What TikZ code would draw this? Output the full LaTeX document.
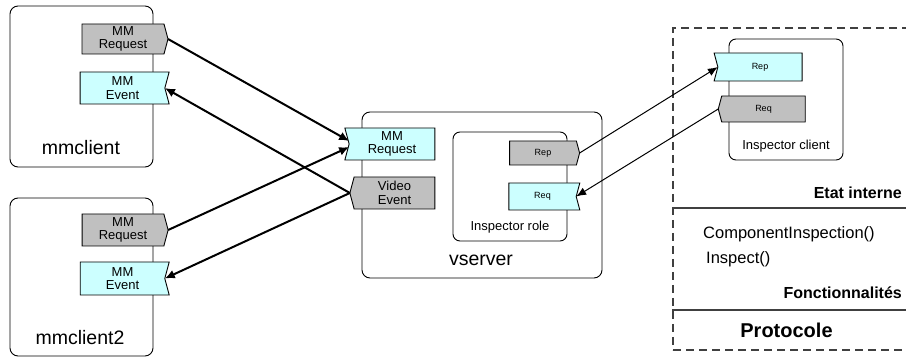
\documentclass[tikz,border=0pt]{standalone}
\usepackage{fontspec}
\setmainfont{Liberation Sans}
\usetikzlibrary{shapes.symbols,arrows.meta,calc}
\definecolor{portgray}{HTML}{C0C0C0}
\definecolor{portcyan}{HTML}{CCFFFF}
\definecolor{framegray}{HTML}{404040}

\tikzset{
  comp/.style={draw=black, line width=0.9pt, rounded corners=8pt, rectangle, inner sep=0pt},
  port/.style={shape=signal, draw=black, line width=0.9pt, inner sep=0pt, outer sep=0pt,
               signal pointer angle=150, align=center,
               font=\fontsize{13}{13.5}\selectfont},
  sendE/.style={port, fill=portgray, signal to=east, signal from=nowhere},
  sendW/.style={port, fill=portgray, signal to=west, signal from=nowhere},
  recvE/.style={port, fill=portcyan, signal to=nowhere, signal from=east},
  recvW/.style={port, fill=portcyan, signal to=nowhere, signal from=west},
  tinytext/.style={font=\fontsize{9}{10}\selectfont},
  boxlabel/.style={inner sep=0pt, font=\fontsize{19.5}{20}\selectfont},
  rolelabel/.style={inner sep=0pt, font=\fontsize{13}{14}\selectfont},
  spectext/.style={inner sep=0pt, font=\fontsize{16.5}{18}\selectfont},
  spechead/.style={inner sep=0pt, font=\fontsize{16}{18}\selectfont\bfseries},
  wire/.style={line width=2pt, -{Latex[length=10pt,width=9pt]}},
  thinwire/.style={line width=1pt, -{Latex[length=10pt,width=8pt]}},
  specframe/.style={draw=framegray, line width=1.3pt, dash pattern=on 8pt off 5pt},
  specrule/.style={draw=framegray, line width=1.5pt},
}

\begin{document}
\begin{tikzpicture}[x=1pt,y=-1pt]
\useasboundingbox (0,0) rectangle (906,358);

% components
\node[comp, minimum width=143pt, minimum height=161pt] (mm1) at (81.5,86.5) {};
\node[comp, minimum width=143pt, minimum height=158pt] (mm2) at (81.5,277) {};
\node[comp, minimum width=240pt, minimum height=166pt] (vs) at (482,195) {};
\node[comp, rounded corners=7pt, minimum width=114pt, minimum height=109pt] (role) at (510,186.5) {};
\node[comp, rounded corners=7pt, minimum width=114pt, minimum height=121pt] (icl) at (786,99.5) {};

% component names
\node[boxlabel] (mm1name) at (81,148) {mmclient};
\node[boxlabel] (mm2name) at (80,338) {mmclient2};
\node[boxlabel] (vsname) at (481,260) {vserver};
\node[rolelabel] (rolename) at (510,227) {Inspector role};
\node[rolelabel] (iclname) at (786,146) {Inspector client};

% ports of the multimedia clients
\node[sendE, minimum width=86pt, minimum height=30pt] (c1req) at (123,39) {MM\\Request};
\node[recvE, minimum width=89pt, minimum height=32pt] (c1evt) at (122.5,88) {MM\\Event};
\node[sendE, minimum width=86pt, minimum height=32pt] (c2req) at (123,230) {MM\\Request};
\node[recvE, minimum width=89pt, minimum height=33pt] (c2evt) at (122.5,278.5) {MM\\Event};

% ports of the video server
\node[recvW, minimum width=90pt, minimum height=32pt] (vreq) at (392,144) {MM\\Request};
\node[sendW, minimum width=85pt, minimum height=32pt] (vvid) at (394.5,193) {Video\\Event};

% inspection ports
\node[sendE, tinytext, minimum width=70pt, minimum height=24pt] (rrep) at (543,153) {Rep};
\node[recvE, tinytext, minimum width=71pt, minimum height=27pt] (rreq) at (542.5,196.5) {Req};
\node[recvW, tinytext, minimum width=88pt, minimum height=28pt] (irep) at (760,67) {Rep};
\node[sendW, tinytext, minimum width=87pt, minimum height=26pt] (ireq) at (763.5,109) {Req};

% specification frame
\node[specframe, minimum width=250pt, minimum height=322pt, inner sep=0pt] (spec) at (798,189) {};
\draw[specrule] (spec.west |- 0,208) -- (spec.east |- 0,208);
\draw[specrule] (spec.west |- 0,310) -- (spec.east |- 0,310);
\node[spechead, anchor=east] (etat) at (902,193) {Etat interne};
\node[spectext, anchor=west] (cinsp) at (703,234) {ComponentInspection()};
\node[spectext, anchor=west] (insp) at (706,259) {Inspect()};
\node[spechead, anchor=east] (fonct) at (902,293) {Fonctionnalités};
\node[inner sep=0pt, font=\fontsize{20}{22}\selectfont\bfseries] (proto) at (786.5,330) {Protocole};

% connections
\draw[wire] (c1req.east) -- ($(vreq.west)+(0,-3)$);
\draw[wire] (c2req.east) -- ($(vreq.west)+(0,3)$);
\draw[wire] (vvid.west) -- (c1evt.east);
\draw[wire] (vvid.west) -- (c2evt.east);
\draw[thinwire] (rrep.east) -- (irep.west);
\draw[thinwire] (ireq.west) -- (rreq.east);
\end{tikzpicture}
\end{document}
